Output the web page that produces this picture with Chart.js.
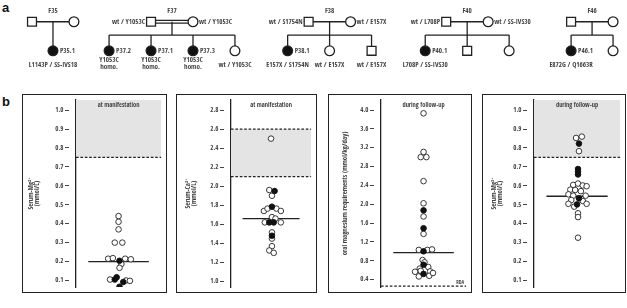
<!DOCTYPE html>
<html>
<head>
<meta charset="utf-8">
<script src="https://cdn.jsdelivr.net/npm/chart.js@4.4.1/dist/chart.umd.min.js"></script>
<style>
  body { margin: 0; background: #fff; width: 627px; height: 308px; position: relative; overflow: hidden; }
  .lbl { position: absolute; font: bold 13px 'Liberation Sans', Arial, sans-serif; color: #111; line-height: 13px; }
  .box { position: absolute; top: 94px; height: 199px; border: 1px solid #222; box-sizing: border-box; }
  .box canvas { display: block; }
  #ped { position: absolute; left: 0; top: 0; }
</style>
</head>
<body>
<div class="lbl" style="left:2px;top:1px">a</div>
<div class="lbl" style="left:2px;top:95px">b</div>
<canvas id="ped" width="627" height="90"></canvas>
<div class="box" style="left:22px;width:145px"><canvas id="c0" width="143" height="197"></canvas></div>
<div class="box" style="left:176px;width:141px"><canvas id="c1" width="139" height="197"></canvas></div>
<div class="box" style="left:328px;width:144px"><canvas id="c2" width="142" height="197"></canvas></div>
<div class="box" style="left:482px;width:144px"><canvas id="c3" width="142" height="197"></canvas></div>
<script>
// ---- panel a: pedigrees ----
var families = ['F35', 'F37', 'F38', 'F40', 'F46'];
var fatherGeno = ['', 'wt / Y1053C', 'wt / S1754N', 'wt / L708P', ''];
var motherGeno = ['', 'wt / Y1053C', 'wt / E157X', 'wt / SS-IVS30', ''];
var consanguineous = [false, true, false, false, false];
var childSex = [['F'], ['F', 'F', 'F', 'F'], ['F', 'F', 'M'], ['F', 'M', 'F'], ['F', 'F']];
var childId = [['P35.1'], ['P37.2', 'P37.1', 'P37.3', ''], ['P38.1', '', ''], ['P40.1', '', ''], ['P46.1', '']];
var childGeno = [
  ['L1143P / SS-IVS18'],
  [['Y1053C', 'homo.'], ['Y1053C', 'homo.'], ['Y1053C', 'homo.'], 'wt / Y1053C'],
  ['E157X / S1754N', 'wt / E157X', 'wt / E157X'],
  ['L708P / SS-IVS30', '', ''],
  ['E872G / Q1663R', '']
];

// ---- panel b: patient values, [horizontal offset, value] ----
var mgOnsetOpen = [[0, 0.44], [0, 0.41], [0, 0.37], [-4, 0.30], [4, 0.30], [-11, 0.215], [-6, 0.218], [7, 0.215], [13, 0.212],
  [3, 0.187], [1, 0.167], [-9, 0.105], [8, 0.10], [12, 0.098]];
var mgOnsetBlack = [[1, 0.204], [-4, 0.105], [-2, 0.117], [5, 0.092], [1, 0.067]];
var caOnsetOpen = [[0, 2.50], [-2, 1.96], [1, 1.90], [-8, 1.74], [-4, 1.765], [6, 1.765], [11, 1.74], [1, 1.675], [5, 1.66],
  [-7, 1.62], [11, 1.62], [1, 1.515], [1, 1.45], [1, 1.37], [-2, 1.325], [3, 1.30]];
var caOnsetBlack = [[4, 1.95], [1, 1.785], [-2, 1.62], [3, 1.62], [1, 1.48]];
var oralMgOpen = [[0, 3.93], [0, 3.11], [-3, 3.0], [3, 3.0], [0, 2.49], [0, 2.02], [0, 1.74], [0, 1.37],
  [-5, 1.03], [4, 1.03], [9, 1.04], [-1, 0.815], [1, 0.767], [-4, 0.634], [5, 0.667], [-9, 0.566], [-3, 0.586], [7, 0.573],
  [-5, 0.466], [6, 0.48], [10, 0.54]];
var oralMgBlack = [[0, 1.87], [0, 1.49], [0, 1.0], [0, 0.715], [0, 0.52]];
var mgFollowOpen = [[-1, 0.853], [5, 0.86], [2, 0.783], [-4, 0.605], [1, 0.612], [6, 0.602], [10, 0.598], [-7, 0.58], [-2, 0.578],
  [4, 0.572], [-9, 0.555], [-4, 0.548], [9, 0.548], [-6, 0.525], [6, 0.52], [-9, 0.505], [10, 0.505], [-3, 0.49],
  [1, 0.455], [1, 0.435], [1, 0.326]];
var mgFollowBlack = [[2, 0.823], [1, 0.689], [1, 0.674], [1, 0.66], [2, 0.534], [0, 0.502]];
var medians = [0.20, 1.66, 0.97, 0.545];

var mgTicks = [0.1, 0.2, 0.3, 0.4, 0.5, 0.6, 0.7, 0.8, 0.9, 1.0];
var caTicks = [1.0, 1.2, 1.4, 1.6, 1.8, 2.0, 2.2, 2.4, 2.6, 2.8];
var oralTicks = [0.4, 0.8, 1.2, 1.6, 2.0, 2.4, 2.8, 3.2, 3.6, 4.0];
var panelTitles = ['at manifestation', 'at manifestation', 'during follow-up', 'during follow-up'];
var yTitles = [['Serum-Mg²⁺', '(mmol/L)'], ['Serum-Ca²⁺', '(mmol/L)'], 'oral magnesium requirements (mmol/kg/day)', ['Serum-Mg²⁺', '(mmol/L)']];
var normalRanges = [[0.75, null], [2.1, 2.6], null, [0.75, null]];
var rda = 0.26;

// layout
var PED_X = [46.5, 168.5, 330, 471, 599];
var GAP = 43, SIB = 0.46;
var INK = '#222', TXT = '#444';
var FONT = "'Liberation Sans Narrow', 'Open Sans Condensed', Lato, sans-serif";

function segment(list, x1, y1, x2, y2) {
  list.push({
    data: [{x: x1, y: y1}, {x: x2, y: y2}], showLine: true, pointRadius: 0,
    borderColor: INK, borderWidth: 1.3, order: 2
  });
}

var lines = [], squares = [], squareFill = [], circles = [], circleFill = [];
var kidsX = [];
families.forEach(function (f, i) {
  var cx = PED_X[i], fx = cx - GAP / 2, mx = cx + GAP / 2;
  squares.push({x: fx, y: 0}); squareFill.push('#fff');
  circles.push({x: mx, y: 0}); circleFill.push('#fff');
  if (consanguineous[i]) {
    segment(lines, fx, -0.045, mx, -0.045);
    segment(lines, fx, 0.045, mx, 0.045);
  } else {
    segment(lines, fx, 0, mx, 0);
  }
  var n = childSex[i].length;
  var kx = childSex[i].map(function (s, k) { return cx + (k - (n - 1) / 2) * GAP; });
  kidsX.push(kx);
  segment(lines, cx, 0, cx, SIB);
  segment(lines, kx[0], SIB, kx[n - 1], SIB);
  kx.forEach(function (x, k) {
    segment(lines, x, SIB, x, 1);
    var fill = childId[i][k] ? '#111' : '#fff';
    if (childSex[i][k] === 'M') { squares.push({x: x, y: 1}); squareFill.push(fill); }
    else { circles.push({x: x, y: 1}); circleFill.push(fill); }
  });
});

var pedText = {
  id: 'pedText',
  afterDatasetsDraw: function (chart) {
    var ctx = chart.ctx, xs = chart.scales.x, ys = chart.scales.y;
    ctx.save();
    ctx.fillStyle = TXT;
    ctx.font = '7px ' + FONT;
    ctx.textBaseline = 'middle';
    families.forEach(function (f, i) {
      var cx = PED_X[i];
      ctx.textAlign = 'center';
      ctx.fillText(f, xs.getPixelForValue(cx), ys.getPixelForValue(-0.37));
      if (fatherGeno[i]) {
        ctx.textAlign = 'right';
        ctx.fillText(fatherGeno[i], xs.getPixelForValue(cx - GAP / 2) - 6, ys.getPixelForValue(0));
      }
      if (motherGeno[i]) {
        ctx.textAlign = 'left';
        ctx.fillText(motherGeno[i], xs.getPixelForValue(cx + GAP / 2) + 6, ys.getPixelForValue(0));
      }
      kidsX[i].forEach(function (x, k) {
        var px = xs.getPixelForValue(x);
        if (childId[i][k]) {
          ctx.textAlign = 'left';
          ctx.fillText(childId[i][k], px + 7, ys.getPixelForValue(1));
        }
        var g = childGeno[i][k];
        ctx.textAlign = 'center';
        if (Array.isArray(g)) {
          ctx.fillText(g[0], px, ys.getPixelForValue(1.31));
          ctx.fillText(g[1], px, ys.getPixelForValue(1.56));
        } else if (g) {
          ctx.fillText(g, px, ys.getPixelForValue(1.49));
        }
      });
    });
    ctx.restore();
  }
};

new Chart(document.getElementById('ped'), {
  type: 'scatter',
  data: {
    datasets: lines.concat([
      {data: squares, pointStyle: 'rect', pointRadius: 6.3, backgroundColor: squareFill, borderColor: INK, borderWidth: 1.3, order: 1},
      {data: circles, pointStyle: 'circle', pointRadius: 4.9, backgroundColor: circleFill, borderColor: INK, borderWidth: 1.3, order: 1}
    ])
  },
  options: {
    responsive: false, animation: false, events: [],
    layout: {padding: 0},
    plugins: {legend: {display: false}, tooltip: {enabled: false}},
    scales: {
      x: {type: 'linear', display: false, min: 0, max: 627},
      y: {type: 'linear', display: false, reverse: true, min: -0.486, max: 2.086}
    }
  },
  plugins: [pedText]
});

// ---- panel b ----
var refLines = {
  id: 'refLines',
  beforeDatasetsDraw: function (chart, args, opts) {
    var ctx = chart.ctx, a = chart.chartArea, ys = chart.scales.y;
    ctx.save();
    if (opts.range) {
      var lo = ys.getPixelForValue(opts.range[0]);
      var hi = opts.range[1] === null ? a.top : ys.getPixelForValue(opts.range[1]);
      ctx.fillStyle = '#e4e4e4';
      ctx.fillRect(a.left, hi, a.right - a.left, lo - hi);
      ctx.strokeStyle = INK; ctx.lineWidth = 1.3; ctx.setLineDash([2.6, 1.8]);
      [lo].concat(opts.range[1] === null ? [] : [hi]).forEach(function (y) {
        ctx.beginPath(); ctx.moveTo(a.left, y); ctx.lineTo(a.right, y); ctx.stroke();
      });
    }
    if (opts.rda) {
      var ry = ys.getPixelForValue(opts.rda);
      ctx.strokeStyle = INK; ctx.lineWidth = 1.3; ctx.setLineDash([2.6, 1.8]);
      ctx.beginPath(); ctx.moveTo(a.left, ry); ctx.lineTo(a.right, ry); ctx.stroke();
      ctx.setLineDash([]);
      ctx.fillStyle = TXT; ctx.font = '5px ' + FONT;
      ctx.textAlign = 'right'; ctx.textBaseline = 'bottom';
      ctx.fillText('RDA', a.right - 2, ry - 1);
    }
    ctx.restore();
  },
  afterDatasetsDraw: function (chart, args, opts) {
    var ctx = chart.ctx, a = chart.chartArea;
    ctx.save();
    ctx.fillStyle = TXT; ctx.font = '6.4px ' + FONT;
    ctx.textAlign = 'center'; ctx.textBaseline = 'middle';
    ctx.fillText(opts.title, (a.left + a.right) / 2, a.top + 5.5);
    ctx.restore();
  }
};

function toPoints(arr) { return arr.map(function (p) { return {x: p[0], y: p[1]}; }); }

var panels = [
  {id: 'c0', open: mgOnsetOpen, black: mgOnsetBlack, ticks: mgTicks, min: 0.065, max: 1.054, axisW: 53, titlePad: 4.5},
  {id: 'c1', open: caOnsetOpen, black: caOnsetBlack, ticks: caTicks, min: 0.94, max: 2.907, axisW: 54, titlePad: 7.5},
  {id: 'c2', open: oralMgOpen, black: oralMgBlack, ticks: oralTicks, min: 0.24, max: 4.215, axisW: 52, titlePad: 12.5},
  {id: 'c3', open: mgFollowOpen, black: mgFollowBlack, ticks: mgTicks, min: 0.065, max: 1.054, axisW: 51, titlePad: 7.5}
];

panels.forEach(function (p, i) {
  new Chart(document.getElementById(p.id), {
    type: 'scatter',
    data: {
      datasets: [
        {data: toPoints(p.black), pointRadius: 2.8, backgroundColor: '#111', borderColor: '#111', borderWidth: 0.9, order: 1},
        {data: toPoints(p.open), pointRadius: 2.8, backgroundColor: '#fff', borderColor: INK, borderWidth: 0.9, order: 2},
        {data: [{x: -32, y: medians[i]}, {x: 32, y: medians[i]}], showLine: true, pointRadius: 0,
          borderColor: INK, borderWidth: 1.3, order: 3}
      ]
    },
    options: {
      responsive: false, animation: false, events: [],
      layout: {padding: 0},
      plugins: {
        legend: {display: false}, tooltip: {enabled: false},
        refLines: {range: normalRanges[i], rda: i === 2 ? rda : null, title: panelTitles[i]}
      },
      scales: {
        x: {type: 'linear', display: false, min: -45, max: 45},
        y: {
          type: 'linear', min: p.min, max: p.max,
          afterBuildTicks: function (s) { s.ticks = p.ticks.map(function (v) { return {value: v}; }); },
          afterFit: function (s) { s.width = p.axisW; s.paddingTop = 0; s.paddingBottom = 0; },
          border: {display: true, color: INK, width: 1.3},
          grid: {drawOnChartArea: false, tickLength: 11, tickColor: TXT, tickWidth: 1, tickBorderDash: [4, 30]},
          ticks: {font: {family: FONT, size: 6.8}, color: TXT, padding: 1.5, autoSkip: false,
            callback: function (v) { return v.toFixed(1); }},
          title: {display: true, text: yTitles[i], color: TXT, font: {family: FONT, size: 6.8, lineHeight: 1},
            padding: {top: p.titlePad, bottom: 0}}
        }
      }
    },
    plugins: [refLines]
  });
});
</script>
</body>
</html>
